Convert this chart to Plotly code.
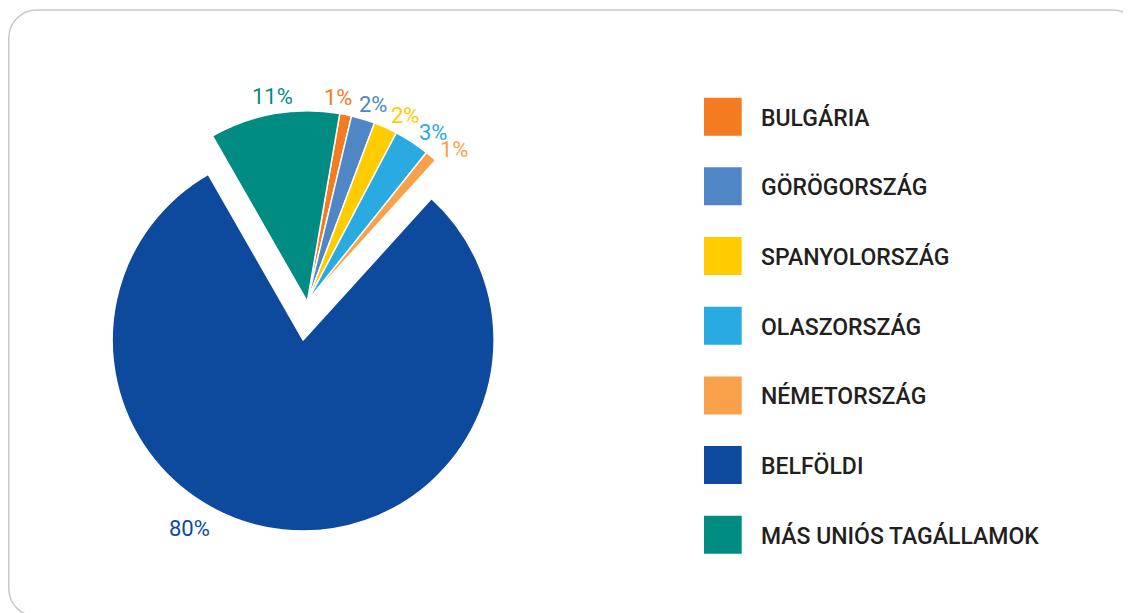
import math
import plotly.graph_objects as go

labels = ["BULGÁRIA", "GÖRÖGORSZÁG", "SPANYOLORSZÁG", "OLASZORSZÁG",
          "NÉMETORSZÁG", "BELFÖLDI", "MÁS UNIÓS TAGÁLLAMOK"]
values = [1, 2, 2, 3, 1, 80, 11]
colors = ["#F47B20", "#4F86C6", "#FFCC00", "#29ABE2", "#F9A04A", "#0D4A9E", "#008C82"]
pulls = [0, 0, 0, 0, 0, 0.202, 0]

# label placement tuning (angular nudge in degrees, radial factor)
label_nudge = [-3.1, 1.5, 3.5, 3.4, 3.6, 25.0, 0.3]
label_rad = [1.083, 1.090, 1.103, 1.105, 1.105, 1.151, 1.091]

W, H = 1131, 613
OFF = 8          # page offset of the plot div (body margin)
FONT = "Roboto"
ROT = 9.8

def px(x): return (x - OFF) / W       # page pixel -> paper
def py(y): return 1 - (y - OFF) / H

# pie geometry in page pixels
CX, CY, R0 = 307.3, 301.7, 191.0
half = R0 * (1 + max(pulls))
dom_x = [CX - 290, CX + 290]
dom_y = [CY - half, CY + half]

fig = go.Figure(go.Pie(
    labels=labels, values=values, sort=False, direction="clockwise",
    rotation=ROT, pull=pulls,
    marker=dict(colors=colors, line=dict(color="white", width=1.5)),
    textinfo="none",
    showlegend=False, hoverinfo="label+percent",
    domain=dict(x=[px(dom_x[0]), px(dom_x[1])], y=[py(dom_y[1]), py(dom_y[0])]),
))

shapes = []
annotations = []

# percentage labels, placed from the slice angles
cx = (dom_x[0] + dom_x[1]) / 2
cy = (dom_y[0] + dom_y[1]) / 2
r = (dom_y[1] - dom_y[0]) / (2 * (1 + max(pulls)))
total = sum(values)
cum = 0
for v, col, pl, nd, rf in zip(values, colors, pulls, label_nudge, label_rad):
    mid = ROT + 360 * (cum + v / 2) / total
    cum += v
    ma = math.radians(mid)
    ox, oy = cx + pl * r * math.sin(ma), cy - pl * r * math.cos(ma)
    la = math.radians(mid + nd)
    lx = ox + rf * r * math.sin(la)
    ly = oy - rf * r * math.cos(la)
    annotations.append(dict(text=f"{v}%", xref="paper", yref="paper",
                            x=px(lx), y=py(ly), xanchor="center", yanchor="middle",
                            showarrow=False, borderpad=0,
                            font=dict(family=FONT, size=22, color=col, weight=400)))

# custom legend
x0, x1 = 704, 741.7
y_first, step, sz = 116.7, 69.67, 38
for i, (lab, col) in enumerate(zip(labels, colors)):
    yc = y_first + i * step
    shapes.append(dict(type="rect", xref="paper", yref="paper",
                       x0=px(x0), x1=px(x1),
                       y0=py(yc + sz / 2), y1=py(yc - sz / 2),
                       fillcolor=col, line=dict(width=0)))
    annotations.append(dict(text=lab, xref="paper", yref="paper",
                            x=px(758.5), y=py(yc + 1), xanchor="left", yanchor="middle",
                            showarrow=False,
                            font=dict(family=FONT, size=23, color="#231F20", weight=500)))

# rounded frame
L, T, Rr, B, rad = 8.8, 10, 1140.6, 616.6, 28
k = rad * 0.5523
path = (f"M {px(L+rad)},{py(T)} L {px(Rr-rad)},{py(T)} "
        f"C {px(Rr-rad+k)},{py(T)} {px(Rr)},{py(T+rad-k)} {px(Rr)},{py(T+rad)} "
        f"L {px(Rr)},{py(B-rad)} "
        f"C {px(Rr)},{py(B-rad+k)} {px(Rr-rad+k)},{py(B)} {px(Rr-rad)},{py(B)} "
        f"L {px(L+rad)},{py(B)} "
        f"C {px(L+rad-k)},{py(B)} {px(L)},{py(B-rad+k)} {px(L)},{py(B-rad)} "
        f"L {px(L)},{py(T+rad)} "
        f"C {px(L)},{py(T+rad-k)} {px(L+rad-k)},{py(T)} {px(L+rad)},{py(T)} Z")
shapes.append(dict(type="path", xref="paper", yref="paper", path=path,
                   line=dict(color="#C8C8C8", width=1.5), layer="below"))

fig.update_layout(
    width=W, height=H, margin=dict(l=0, r=0, t=0, b=0, autoexpand=False),
    paper_bgcolor="white", plot_bgcolor="white",
    shapes=shapes, annotations=annotations,
    font=dict(family=FONT),
)
fig.write_html("out.html")
